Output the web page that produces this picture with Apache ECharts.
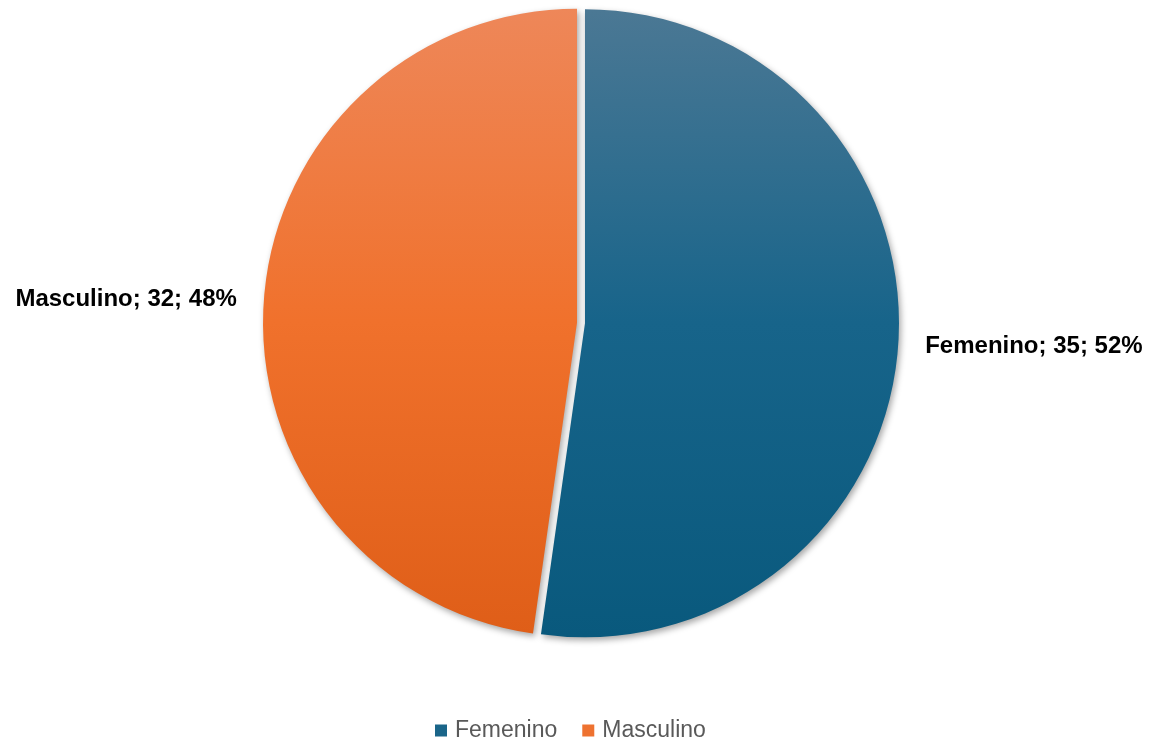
<!DOCTYPE html>
<html>
<head>
<meta charset="utf-8">
<script src="https://cdn.jsdelivr.net/npm/echarts@6/dist/echarts.min.js"></script>
<style>
html,body{margin:0;padding:0;background:#fff;}
#chart{width:1149px;height:745px;}
</style>
</head>
<body>
<div id="chart"></div>
<script>
var categories = ['Femenino', 'Masculino'];
var values = [35, 32];
var topColors = ['#4b7894', '#ee8759'];
var midColors = ['#17648a', '#f0712c'];
var bottomColors = ['#09597d', '#df5e18'];
var legendColors = ['#1a6589', '#ee7230'];

var chart = echarts.init(document.getElementById('chart'));
var data = categories.map(function (c, i) {
  return {
    name: c,
    value: values[i],
    selected: true,
    itemStyle: {
      color: {
        type: 'linear', x: 0, y: 0, x2: 0, y2: 1,
        colorStops: [
          { offset: 0, color: topColors[i] },
          { offset: 0.5, color: midColors[i] },
          { offset: 1, color: bottomColors[i] }
        ]
      }
    }
  };
});

chart.setOption({
  animation: false,
  legend: {
    data: categories.map(function (c, i) {
      return { name: c, itemStyle: { color: legendColors[i] } };
    }),
    top: 714,
    left: 430,
    icon: 'rect',
    itemWidth: 12,
    itemHeight: 12,
    itemGap: 25,
    textStyle: { fontFamily: 'Liberation Sans, Arial, sans-serif', fontSize: 23, color: '#595959', padding: [0, 0, 0, 3] }
  },
  series: [{
    type: 'pie',
    center: [581, 323],
    radius: [0, 314],
    startAngle: 90,
    clockwise: true,
    selectedMode: 'multiple',
    selectedOffset: 4,
    data: data,
    itemStyle: {
      shadowBlur: 6,
      shadowColor: 'rgba(0,0,0,0.35)',
      shadowOffsetX: 2,
      shadowOffsetY: 3
    },
    label: {
      show: true,
      position: 'outside',
      formatter: function (p) { return p.name + '; ' + p.value + '; ' + Math.round(p.percent) + '%'; },
      fontFamily: 'Liberation Sans, Arial, sans-serif',
      fontWeight: 'bold',
      fontSize: 24,
      color: '#000'
    },
    labelLine: { show: false, length: 12, length2: 10 },
    emphasis: { disabled: true }
  }]
});
</script>
</body>
</html>
